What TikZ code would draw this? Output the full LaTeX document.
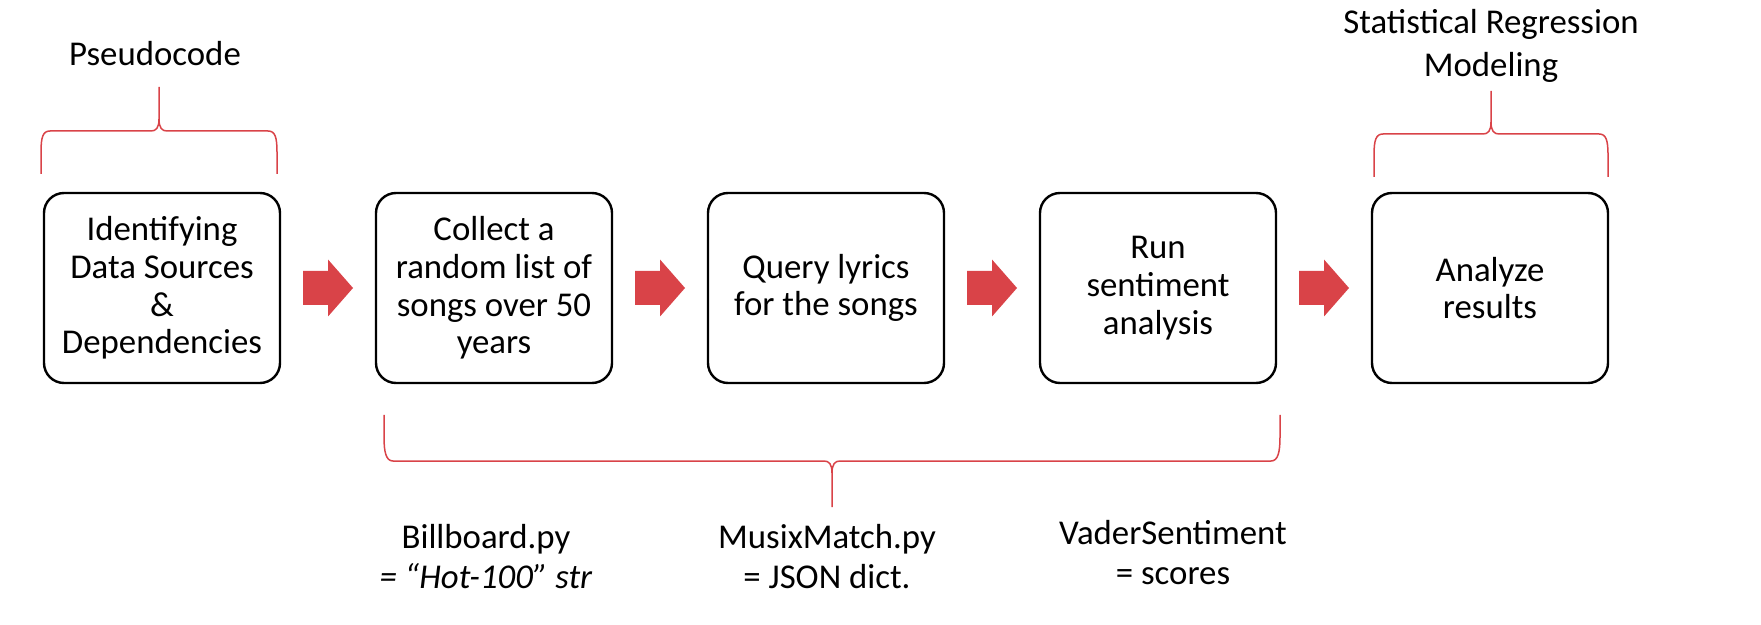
\documentclass[tikz,border=0pt]{standalone}
\usepackage{fontspec}
\setmainfont{Carlito}
\usetikzlibrary{calc}
\definecolor{redc}{RGB}{217,67,72}
\begin{document}
\begin{tikzpicture}[x=0.5pt,y=-0.5pt,
  stepbox/.style={draw=black, line width=1.2pt, rounded corners=10pt,
    minimum width=118pt, minimum height=95pt, inner sep=0pt,
    align=center, font=\fontsize{17.4}{18.9}\selectfont},
  lbl/.style={inner sep=0pt, align=center, font=\fontsize{17.4}{20}\selectfont},
  brace/.style={draw=redc, line width=0.75pt}]
\useasboundingbox (0,0) rectangle (1761,625);

\node[stepbox] (b1) at (162,288) {Identifying\\Data Sources\\\&\\Dependencies};
\node[stepbox] (b2) at (494,288) {Collect a\\random list of\\songs over 50\\years};
\node[stepbox] (b3) at (826,288) {Query lyrics\\for the songs};
\node[stepbox] (b4) at (1158,288) {Run\\sentiment\\analysis};
\node[stepbox] (b5) at (1490,288) {Analyze\\results};

\foreach \a/\b in {b1/b2,b2/b3,b3/b4,b4/b5}{
  \path ($(\a.east)!0.5!(\b.west)$) coordinate (m);
  \fill[redc] ($(m)+(-25,-17)$) -- ++(25,0) -- ++(0,-11.5) -- ++(25,28.5)
     -- ++(-25,28.5) -- ++(0,-11.5) -- ++(-25,0) -- cycle;
}

% Pseudocode brace
\draw[brace] (41,174) -- (41,152) .. controls (41,137) and (43,131) .. (50,131)
  -- (151,131) .. controls (156,131) and (159,128) .. (159,119) -- (159,87);
\draw[brace] (277,174) -- (277,152) .. controls (277,137) and (275,131) .. (268,131)
  -- (167,131) .. controls (162,131) and (159,128) .. (159,119);
\node[lbl, anchor=base] (pc) at (155,66) {Pseudocode};

% Statistical brace
\draw[brace] (1374,177) -- (1374,155) .. controls (1374,140) and (1376,134) .. (1383,134)
  -- (1483,134) .. controls (1488,134) and (1491,131) .. (1491,122) -- (1491,91);
\draw[brace] (1608,177) -- (1608,155) .. controls (1608,140) and (1606,134) .. (1599,134)
  -- (1499,134) .. controls (1494,134) and (1491,131) .. (1491,122);
\node[lbl, font=\fontsize{17.4}{21.5}\selectfont] (st) at (1491,46) {Statistical Regression\\Modeling};

% Bottom brace
\draw[brace] (384,415) -- (384,437) .. controls (384,452) and (386,461) .. (393,461)
  -- (824,461) .. controls (829,461) and (832,464) .. (832,473) -- (832,507);
\draw[brace] (1280,415) -- (1280,437) .. controls (1280,452) and (1278,461) .. (1271,461)
  -- (840,461) .. controls (835,461) and (832,464) .. (832,473);

\node[lbl] (l1) at (486,557) {Billboard.py\\\textit{= “Hot-100” str}};
\node[lbl] (l2) at (827,557) {MusixMatch.py\\= JSON dict.};
\node[lbl] (l3) at (1173,553) {VaderSentiment\\= scores};
\end{tikzpicture}
\end{document}
